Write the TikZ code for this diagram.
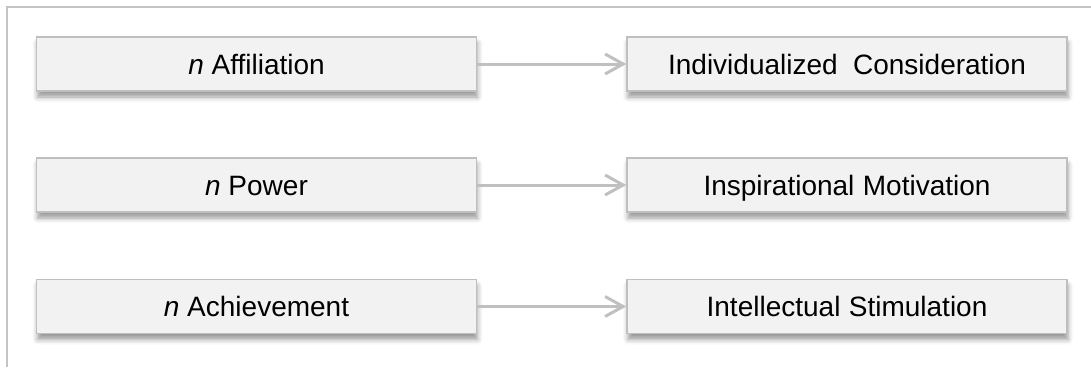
\documentclass[tikz,border=0pt]{standalone}
\usepackage{fontspec}
\setmainfont{Liberation Sans}
\usetikzlibrary{arrows.meta,shadows.blur}
\definecolor{boxfill}{HTML}{F2F2F2}
\definecolor{boxline}{HTML}{BFBFBF}
\definecolor{linkgray}{HTML}{C0C0C0}
\definecolor{framegray}{HTML}{C4C4C4}
\begin{document}
\begin{tikzpicture}[x=1pt,y=-1pt,
  factor/.style={draw=boxline, line width=1.6pt, fill=boxfill,
    minimum width=440pt, minimum height=54pt, inner sep=0pt,
    text height=20pt, text depth=0pt, font=\fontsize{28}{33}\selectfont,
    blur shadow={shadow xshift=1pt, shadow yshift=-6pt,
      shadow blur radius=5pt, shadow opacity=40}},
  link/.style={draw=linkgray, line width=3pt,
    -{Straight Barb[length=18pt,width=20pt]}}]
\useasboundingbox (0,0) rectangle (1091,367);
% frame
\draw[framegray, line width=1.6pt] (1091,7) -- (7,7) -- (7,367);
% motives (left) and leadership behaviours (right)
\node[factor] (aff) at (256.5,64) {\textit{n} Affiliation};
\node[factor] (pow) at (256.5,185) {\textit{n} Power};
\node[factor] (ach) at (256.5,306.5) {\textit{n} Achievement};
\node[factor] (ic) at (847,64) {Individualized\hspace{0.55em}Consideration};
\node[factor] (im) at (847,185) {Inspirational\hspace{0.3em}Motivation};
\node[factor] (is) at (847,306.5) {Intellectual\hspace{0.3em}Stimulation};
% links
\draw[link] (aff) -- (ic);
\draw[link] (pow) -- (im);
\draw[link] (ach) -- (is);
\end{tikzpicture}
\end{document}
